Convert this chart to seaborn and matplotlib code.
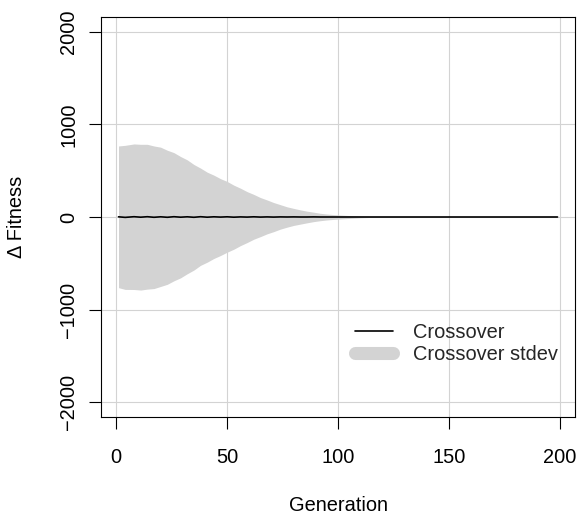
import matplotlib
matplotlib.use("Agg")
import matplotlib.pyplot as plt
from matplotlib.lines import Line2D
import seaborn as sns
import pandas as pd

# Generation sample points, mean fitness change and its standard deviation
generation = [1, 4, 8, 11, 14, 17, 20, 23, 26, 29, 32, 35, 38, 41, 44, 47, 50,
              53, 56, 59, 62, 65, 68, 71, 74, 77, 80, 83, 86, 89, 92, 95, 98,
              101, 104, 107, 110, 113, 116, 120, 125, 140, 160, 180, 199]
mean_delta = [2, -4, 3, -2, 3, -3, 2, -3, 3, -2, 2, -3, 3, -2, 2, -1, 2,
              -2, 1, -1, 2, -1, 1, -1, 1, 0, 1, 0, 0, 1, 0, 0, 0,
              0, 0, 0, 0, 0, 0, 0, 0, 0, 0, 0, 0]
sd_delta = [765, 778, 786, 787, 782, 770, 752, 724, 692, 655, 615, 570, 525,
            486, 450, 415, 382, 346, 310, 275, 242, 211, 183, 157, 132, 110,
            92, 77, 63, 51, 40, 32, 26, 21, 17, 13, 9, 6, 4, 2, 0, 0, 0, 0, 0]

x_ticks = [0, 50, 100, 150, 200]
y_ticks = [-2000, -1000, 0, 1000, 2000]

df = pd.DataFrame({"Generation": generation, "mean": mean_delta, "sd": sd_delta})
df["lo"] = df["mean"] - df["sd"]
df["hi"] = df["mean"] + df["sd"]

sns.set_theme(style="white")
plt.rcParams["font.family"] = ["Liberation Sans", "DejaVu Sans"]
FS = 14.4

fig = plt.figure(figsize=(5.77, 5.16), dpi=100)
ax = fig.add_axes([101 / 577, 1 - 417 / 516, 474 / 577, 400 / 516])

band_color = "#d3d3d3"
ax.fill_between(df["Generation"], df["lo"], df["hi"], color=band_color,
                linewidth=0, zorder=1)
sns.lineplot(data=df, x="Generation", y="mean", color="black", linewidth=1.2,
             ax=ax, zorder=3)

ax.set_xlim(-6.9, 206.9)
ax.set_ylim(-2160, 2160)
ax.set_xticks(x_ticks)
ax.set_yticks(y_ticks)
ax.set_xticklabels([str(v) for v in x_ticks])
ax.set_yticklabels([str(v).replace("-", "\u2212") for v in y_ticks])

for v in x_ticks:
    ax.axvline(v, color="#d3d3d3", linewidth=0.8, zorder=2)
for v in y_ticks:
    ax.axhline(v, color="#d3d3d3", linewidth=0.8, zorder=2)

for s in ax.spines.values():
    s.set_color("black")
    s.set_linewidth(0.8)
    s.set_visible(True)

ax.tick_params(axis="both", direction="out", length=8.6, width=0.8,
               color="black", labelsize=FS, labelcolor="black")
ax.tick_params(axis="x", pad=13.5, bottom=True)
ax.tick_params(axis="y", pad=7.7, left=True)
for lab in ax.get_yticklabels():
    lab.set_rotation(90)
    lab.set_va("center")

ax.set_xlabel("Generation", fontsize=FS, color="black")
ax.set_ylabel("\u0394 Fitness", fontsize=FS, color="black")
ax.xaxis.set_label_coords(0.5, (417 - 505.5) / 400)
ax.xaxis.label.set_va("center")
ax.yaxis.set_label_coords((17 - 101) / 474, 0.5)
ax.yaxis.label.set_va("center")

handles = [
    Line2D([], [], color="black", linewidth=1.2),
    Line2D([], [], color=band_color, linewidth=9.4, solid_capstyle="round"),
]
ax.legend(handles, ["Crossover", "Crossover stdev"], loc="upper left",
          bbox_to_anchor=(355 / 577, 1 - 323 / 516),
          bbox_transform=fig.transFigure, frameon=False, fontsize=FS,
          handlelength=1.9, handletextpad=1.0, labelspacing=0.15,
          borderpad=0, borderaxespad=0)

fig.savefig("out.png", dpi=100)
